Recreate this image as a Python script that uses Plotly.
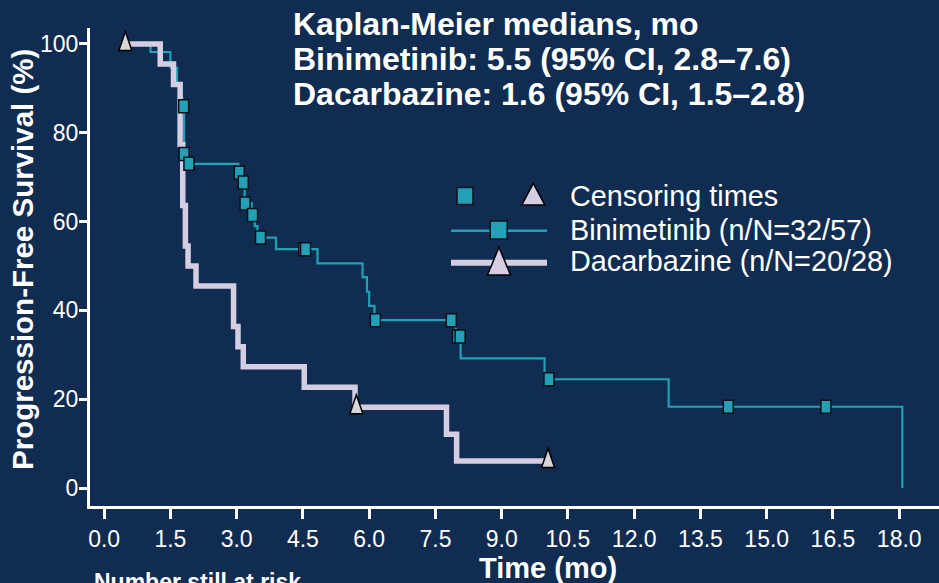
import plotly.graph_objects as go

# ---- data ----
bini_t = [0.38, 1.05, 1.50, 1.65, 1.75, 1.77, 1.81, 1.86, 3.04, 3.13, 3.18, 3.34, 3.41, 3.47,
          3.89, 4.83, 5.85, 5.95, 6.00, 6.12, 7.96, 8.07, 9.97, 12.78, 18.07]
bini_s = [100, 98.2, 94.7, 91.2, 87.7, 86.0, 75.2, 73.0, 71.0, 68.8, 64.1, 61.5, 59.0, 56.4,
          53.8, 50.6, 47.5, 44.2, 41.0, 37.8, 34.1, 29.2, 24.5, 18.3, 0]
bini_cens_t = [1.80, 1.81, 1.92, 3.06, 3.15, 3.19, 3.36, 3.54, 4.52, 4.56, 6.14, 7.86, 8.00, 8.06,
               10.07, 14.13, 16.34]
bini_cens_s = [86.0, 75.2, 73.0, 71.0, 68.8, 64.1, 61.5, 56.4, 53.8, 53.8, 37.8, 37.8, 34.1, 34.1,
               24.5, 18.3, 18.3]

daca_t = [0.38, 1.27, 1.57, 1.72, 1.78, 1.84, 1.90, 2.08, 2.93, 3.03, 3.15, 4.53, 5.68, 7.75, 7.98, 10.05]
daca_s = [100, 95.5, 90.9, 77.3, 63.6, 54.5, 50.0, 45.5, 36.4, 31.8, 27.3, 22.7, 18.2, 12.1, 6.1, 6.1]
daca_cens_t = [0.48, 5.71, 10.05]
daca_cens_s = [100, 18.2, 6.1]

x_ticks = [0, 1.5, 3, 4.5, 6, 7.5, 9, 10.5, 12, 13.5, 15, 16.5, 18]
y_ticks = [0, 20, 40, 60, 80, 100]

title_lines = ["Kaplan-Meier medians, mo",
               "Binimetinib: 5.5 (95% CI, 2.8–7.6)",
               "Dacarbazine: 1.6 (95% CI, 1.5–2.8)"]
legend_labels = ["Censoring times", "Binimetinib (n/N=32/57)", "Dacarbazine (n/N=20/28)"]

# ---- styles ----
BG = "#102c50"
TEAL = "#21a0b6"
LAV = "#d5cee2"
TRI_FILL = "#d6d6d8"
FONT = "Liberation Sans, Arial, sans-serif"

W, H = 939, 583
ML, MR, MT, MB = 90, 0, 28, 77
PW, PH = W - ML - MR, H - MT - MB


def px(xp):
    return (xp - ML) / PW


def py(yp):
    return (H - MB - yp) / PH


fig = go.Figure()
fig.add_trace(go.Scatter(x=bini_t, y=bini_s, mode="lines", line=dict(color=TEAL, width=2.2, shape="hv"),
                         showlegend=False, hoverinfo="skip"))
fig.add_trace(go.Scatter(x=daca_t, y=daca_s, mode="lines", line=dict(color=LAV, width=5.5, shape="hv"),
                         showlegend=False, hoverinfo="skip"))

shapes = []
for t, s in zip(bini_cens_t, bini_cens_s):
    shapes.append(dict(type="rect", xref="x", yref="y", xsizemode="pixel", ysizemode="pixel",
                       xanchor=t, yanchor=s, x0=-5, x1=5, y0=-6.5, y1=6.5,
                       fillcolor=TEAL, line=dict(color="#081018", width=1.5), layer="above"))
for t, s in zip(daca_cens_t, daca_cens_s):
    shapes.append(dict(type="path", xref="x", yref="y", xsizemode="pixel", ysizemode="pixel",
                       xanchor=t, yanchor=s, path="M-6.5,-6.5 L6.5,-6.5 L0,12.5 Z",
                       fillcolor=TRI_FILL, line=dict(color="#000000", width=1.5), layer="above"))

# legend glyphs
shapes.append(dict(type="rect", xref="paper", yref="paper", xsizemode="pixel", ysizemode="pixel",
                   xanchor=px(465), yanchor=py(196), x0=-8, x1=8, y0=-8.5, y1=8.5,
                   fillcolor=TEAL, line=dict(color="#081018", width=1.5), layer="above"))
shapes.append(dict(type="path", xref="paper", yref="paper", xsizemode="pixel", ysizemode="pixel",
                   xanchor=px(533.3), yanchor=py(196), path="M-11.5,-9 L11.5,-9 L0,12.7 Z",
                   fillcolor=LAV, line=dict(color="#000000", width=1.5), layer="above"))
shapes.append(dict(type="line", xref="paper", yref="paper", x0=px(451), x1=px(547), y0=py(230.7), y1=py(230.7),
                   line=dict(color=TEAL, width=2.5), layer="above"))
shapes.append(dict(type="rect", xref="paper", yref="paper", xsizemode="pixel", ysizemode="pixel",
                   xanchor=px(498.7), yanchor=py(230), x0=-8.5, x1=8.5, y0=-9, y1=9,
                   fillcolor=TEAL, line=dict(color="#081018", width=1.5), layer="above"))
shapes.append(dict(type="line", xref="paper", yref="paper", x0=px(451), x1=px(547), y0=py(262.7), y1=py(262.7),
                   line=dict(color=LAV, width=6), layer="above"))
shapes.append(dict(type="path", xref="paper", yref="paper", xsizemode="pixel", ysizemode="pixel",
                   xanchor=px(499), yanchor=py(262.7), path="M-11.5,-12.3 L11.5,-12.3 L0,15.4 Z",
                   fillcolor=LAV, line=dict(color="#000000", width=1.5), layer="above"))

annotations = []
for i, (txt, yc) in enumerate(zip(title_lines, [23.7, 59.5, 94.5])):
    annotations.append(dict(text="<b>%s</b>" % txt, xref="paper", yref="paper", x=px(291), y=py(yc),
                            xanchor="left", yanchor="middle", showarrow=False,
                            font=dict(family=FONT, size=32, color="white")))
for txt, yc in zip(legend_labels, [196, 230, 261]):
    annotations.append(dict(text=txt, xref="paper", yref="paper", x=px(568), y=py(yc),
                            xanchor="left", yanchor="middle", showarrow=False,
                            font=dict(family=FONT, size=28.8, color="white")))
annotations.append(dict(text="<b>Progression-Free Survival (%)</b>", xref="paper", yref="paper",
                        x=px(22), y=py(260), textangle=-90, xanchor="center", yanchor="middle",
                        showarrow=False, font=dict(family=FONT, size=29.5, color="white")))
annotations.append(dict(text="<b>Time (mo)</b>", xref="paper", yref="paper", x=px(548), y=py(568),
                        xanchor="center", yanchor="middle", showarrow=False,
                        font=dict(family=FONT, size=29, color="white")))
annotations.append(dict(text="<b>Number still at risk</b>", xref="paper", yref="paper", x=px(92), y=py(582),
                        xanchor="left", yanchor="middle", showarrow=False,
                        font=dict(family=FONT, size=23, color="white")))

fig.update_layout(
    width=W, height=H, margin=dict(l=ML, r=MR, t=MT, b=MB),
    paper_bgcolor=BG, plot_bgcolor=BG, showlegend=False,
    shapes=shapes, annotations=annotations,
    xaxis=dict(range=[-0.32, 18.9], tickvals=x_ticks, tickformat=".1f", showgrid=False, zeroline=False,
               showline=True, linecolor="white", linewidth=3, ticks="outside", ticklen=10, tickwidth=3,
               tickcolor="white", tickfont=dict(family=FONT, size=23, color="white"), ticklabelstandoff=0),
    yaxis=dict(range=[-4.05, 103.6], tickvals=y_ticks, showgrid=False, zeroline=False,
               showline=True, linecolor="white", linewidth=3, ticks="outside", ticklen=8, tickwidth=3,
               tickcolor="white", tickfont=dict(family=FONT, size=23, color="white"), ticklabelstandoff=-4),
)

fig.write_html("out.html")
